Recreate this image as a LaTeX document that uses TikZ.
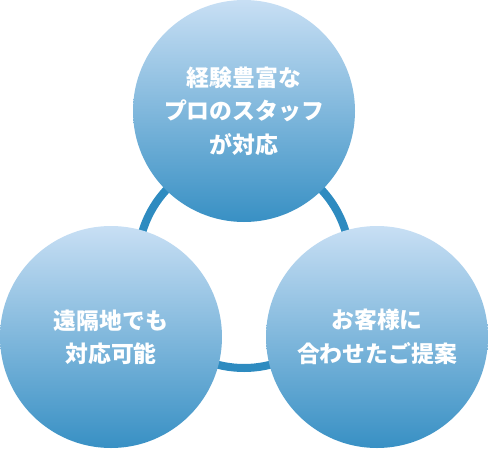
\documentclass[tikz,border=0pt]{standalone}
\usepackage{fontspec}
\newfontfamily\jpfont{Noto Sans CJK JP}
\usepackage{tikz}

\definecolor{ringblue}{RGB}{46,139,192}
\definecolor{toplight}{RGB}{200,223,244}
\definecolor{bottomdark}{RGB}{56,144,196}

\tikzset{
    bubble/.style={circle, minimum size=6.66cm, inner sep=0pt,
        top color=toplight, bottom color=bottomdark, text=white, align=center,
        font=\jpfont\bfseries\fontsize{19.5}{28.5}\selectfont}
}

\begin{document}
\begin{tikzpicture}
    \useasboundingbox (0,0) rectangle (14.64,13.44);
    \coordinate (hub) at (7.32,5.58);
    \draw[ringblue, line width=0.24cm] (hub) circle (3.18);
    \node[bubble] (staff) at (7.32,10.11) {経験豊富な\\プロのスタッフ\\が対応};
    \node[bubble] (remote) at (3.33,3.33) {遠隔地でも\\対応可能};
    \node[bubble] (proposal) at (11.31,3.33) {お客様に\\合わせたご提案};
\end{tikzpicture}
\end{document}
